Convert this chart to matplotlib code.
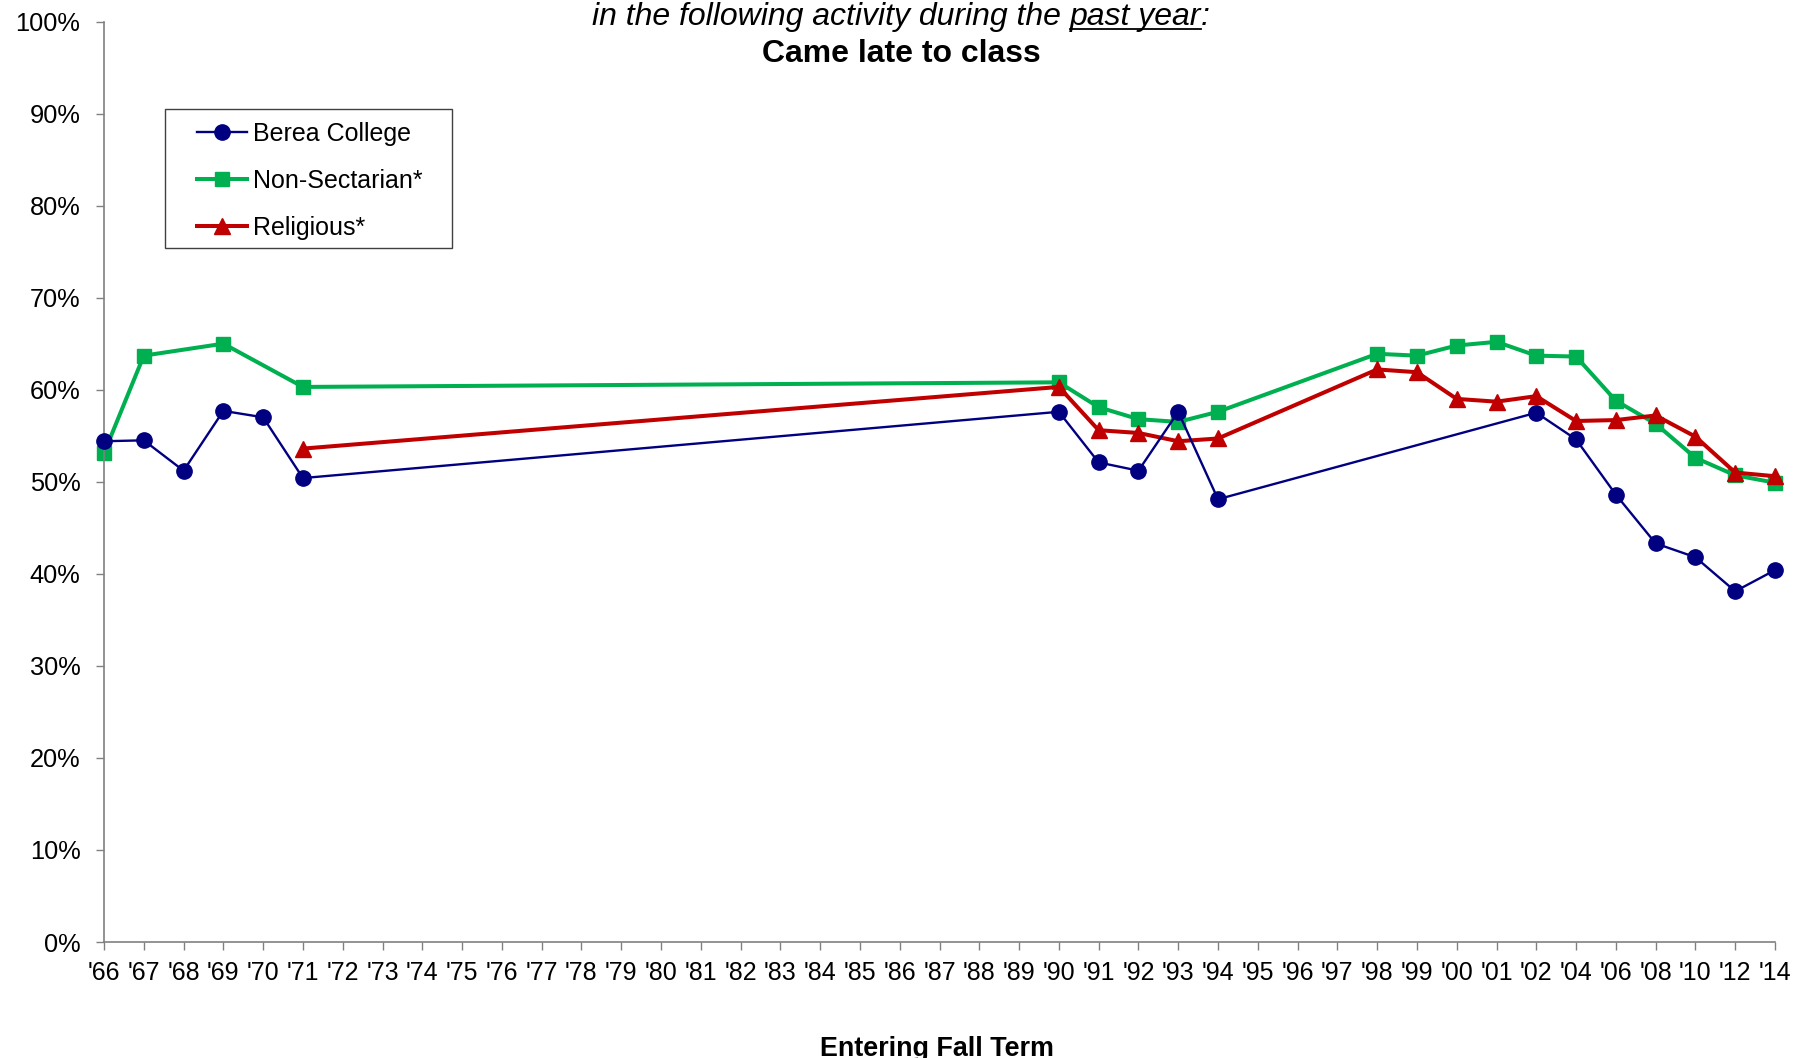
import numpy as np
import matplotlib
matplotlib.use("Agg")
import matplotlib.pyplot as plt
from matplotlib.lines import Line2D
from matplotlib.patches import Rectangle
from matplotlib.transforms import IdentityTransform

plt.rcParams['font.family'] = ['Liberation Sans', 'DejaVu Sans']

# categorias del eje x (anios de ingreso)
anios = ["'66", "'67", "'68", "'69", "'70", "'71", "'72", "'73", "'74", "'75",
         "'76", "'77", "'78", "'79", "'80", "'81", "'82", "'83", "'84", "'85",
         "'86", "'87", "'88", "'89", "'90", "'91", "'92", "'93", "'94", "'95",
         "'96", "'97", "'98", "'99", "'00", "'01", "'02", "'04", "'06", "'08",
         "'10", "'12", "'14"]

# Berea College
anios_berea = ["'66", "'67", "'68", "'69", "'70", "'71", "'90", "'91", "'92", "'93",
               "'94", "'02", "'04", "'06", "'08", "'10", "'12", "'14"]
berea = [54.4, 54.5, 51.2, 57.7, 57.0, 50.4, 57.6, 52.1, 51.2, 57.6,
         48.1, 57.5, 54.6, 48.6, 43.3, 41.8, 38.1, 40.4]

# Non-Sectarian*
anios_nosec = ["'66", "'67", "'69", "'71", "'90", "'91", "'92", "'93", "'94", "'98",
               "'99", "'00", "'01", "'02", "'04", "'06", "'08", "'10", "'12", "'14"]
nosec = [53.1, 63.7, 65.0, 60.3, 60.8, 58.1, 56.8, 56.5, 57.6, 63.9,
         63.7, 64.8, 65.2, 63.7, 63.6, 58.8, 56.3, 52.6, 50.7, 49.9]

# Religious*
anios_relig = ["'71", "'90", "'91", "'92", "'93", "'94", "'98", "'99", "'00", "'01",
               "'02", "'04", "'06", "'08", "'10", "'12", "'14"]
relig = [53.6, 60.3, 55.6, 55.3, 54.4, 54.7, 62.2, 61.9, 59.0, 58.7,
         59.3, 56.6, 56.7, 57.2, 54.9, 51.0, 50.6]

pos = {a: i for i, a in enumerate(anios)}
W, H = 1798, 1058

fig = plt.figure(figsize=(W / 100, H / 100), dpi=100)
ax = fig.add_axes([104 / W, 1 - 942 / H, (1775 - 104) / W, (942 - 21.5) / H])

ax.plot([pos[a] for a in anios_berea], berea, color='#000080', lw=1.7,
        marker='o', ms=11, label='Berea College', clip_on=False, zorder=3)
ax.plot([pos[a] for a in anios_nosec], nosec, color='#00B050', lw=2.9,
        marker='s', ms=10.5, label='Non-Sectarian*', clip_on=False, zorder=2)
ax.plot([pos[a] for a in anios_relig], relig, color='#C00000', lw=2.9,
        marker='^', ms=11, label='Religious*', clip_on=False, zorder=2)

ax.set_xlim(0, len(anios) - 1)
ax.set_ylim(0, 100)
ax.set_xticks(range(len(anios)))
ax.set_xticklabels(anios, fontsize=18)
ax.set_yticks(range(0, 101, 10))
ax.set_yticklabels([f'{v}%' for v in range(0, 101, 10)], fontsize=18.3)
ax.tick_params(axis='y', direction='out', length=6, width=1, color='#808080', pad=11)
ax.tick_params(axis='x', direction='out', length=6, width=1, color='#808080', pad=8)
for s in ['top', 'right']:
    ax.spines[s].set_visible(False)
ax.spines['left'].set_color('#808080')
ax.spines['bottom'].set_color('#808080')
ax.spines['left'].set_linewidth(1.2)
ax.spines['bottom'].set_linewidth(1.2)

# leyenda sin marco, el marco se dibuja aparte
leg = ax.legend(loc='upper left', bbox_to_anchor=(197 / W, 1 - 121.5 / H),
                bbox_transform=fig.transFigure, fontsize=18, frameon=False,
                handlelength=2.0, handletextpad=0.25, labelspacing=0.92,
                borderpad=0, borderaxespad=0)
fig.add_artist(Rectangle((165 / W, 1 - 248 / H), (452 - 165) / W, (248 - 109) / H,
                         transform=fig.transFigure, fill=False,
                         edgecolor='#404040', lw=1.0))

# Titulo (primera linea con "past year" subrayado)
fig.canvas.draw()
renderer = fig.canvas.get_renderer()
parte1 = "in the following activity during the"
parte2 = "past year"
parte3 = ":"
kw = dict(fontsize=23, style='italic', transform=IdentityTransform(), va='baseline', ha='left')


def ancho(txt):
    t = fig.text(0, 0, txt, **kw)
    w = t.get_window_extent(renderer).width
    t.remove()
    return w


w1, w2, w3 = ancho(parte1), ancho(parte2), ancho(parte3)
esp = ancho("i i") - ancho("ii")
total = w1 + esp + w2 + w3
x0 = 901 - total / 2
base = H - 25
fig.text(x0, base, parte1, **kw)
fig.text(x0 + w1 + esp, base, parte2, **kw)
fig.text(x0 + w1 + esp + w2, base, parte3, **kw)
fig.add_artist(Line2D([x0 + w1 + esp, x0 + w1 + esp + w2], [base - 4, base - 4],
                      color='black', lw=1.3, transform=IdentityTransform()))

fig.text(901 / W, 1 - 54 / H, 'Came late to class', fontsize=23, weight='bold',
         ha='center', va='center')
fig.text(937 / W, 1 - 1048.5 / H, 'Entering Fall Term', fontsize=19.4, weight='bold',
         ha='center', va='center')

fig.savefig('out.png', dpi=100)
